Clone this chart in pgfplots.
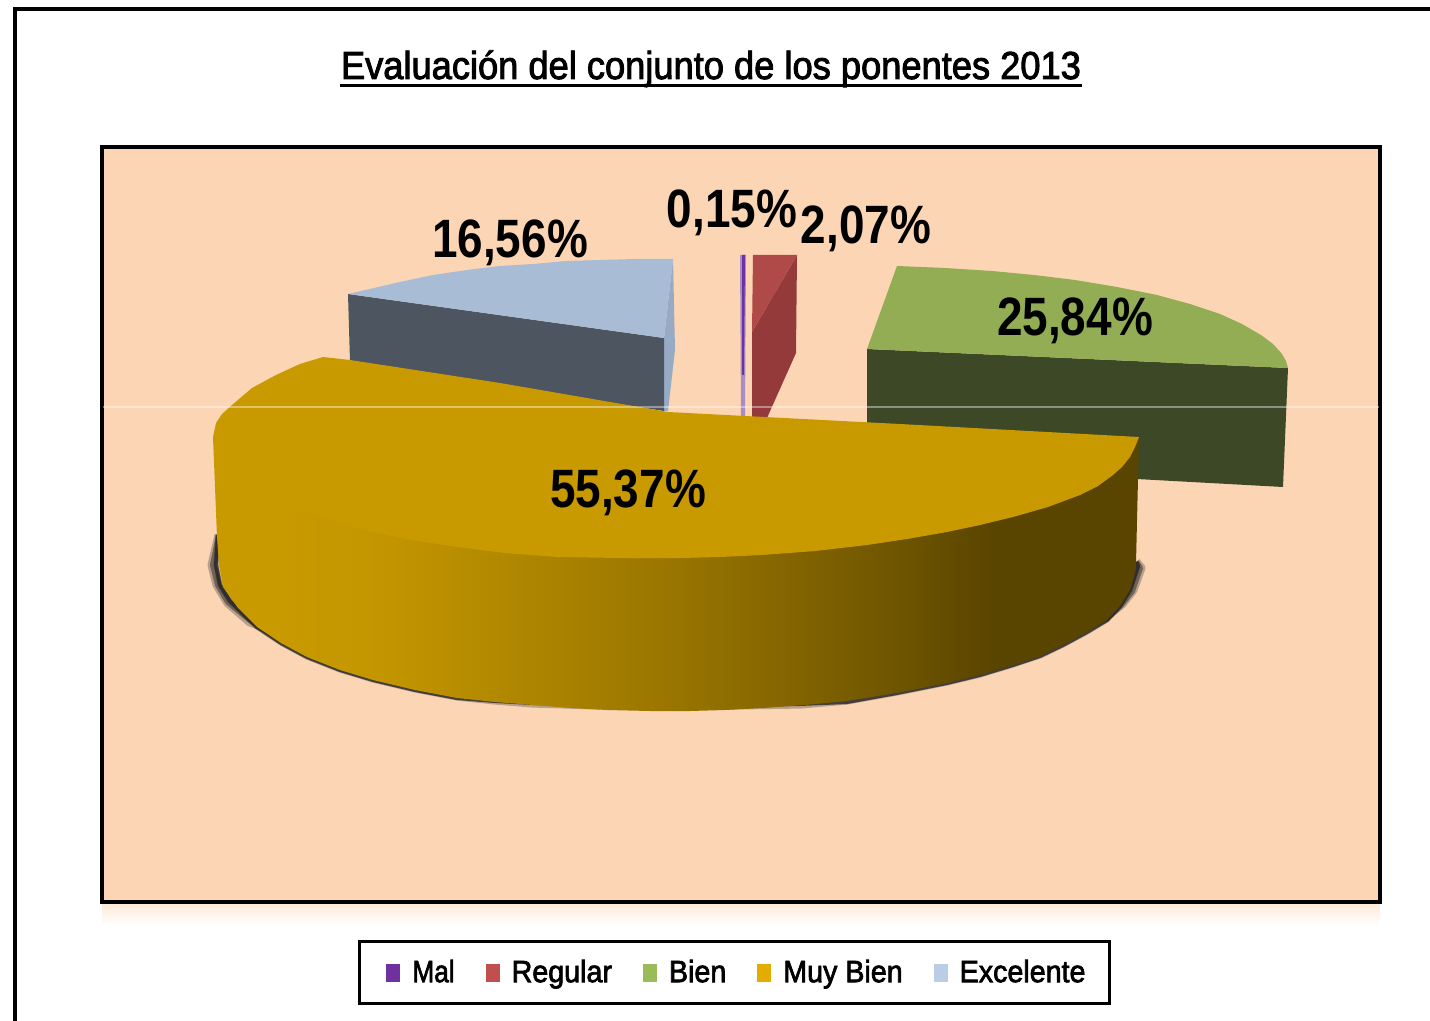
\documentclass[border=0pt]{standalone}
\usepackage{fontspec}
\setmainfont{Liberation Sans}
\newfontfamily\semib[FakeBold=2.4]{Liberation Sans}
\usepackage{pgfplots}
\pgfplotsset{compat=1.18}
\definecolor{bgp}{HTML}{FCD5B5}
\definecolor{blueT}{HTML}{A9BCD6}
\definecolor{blueS}{HTML}{4C5560}
\definecolor{blueR}{HTML}{97ABC5}
\definecolor{redT}{HTML}{B04A49}
\definecolor{redS}{HTML}{943A3A}
\definecolor{purT}{HTML}{6A32A4}
\definecolor{purL}{HTML}{A98CC4}
\definecolor{greenT}{HTML}{92AD54}
\definecolor{greenS}{HTML}{3D4826}
\definecolor{goldT}{HTML}{C99A00}
\definecolor{swM}{HTML}{7030A0}
\definecolor{swR}{HTML}{C0504D}
\definecolor{swB}{HTML}{9BBB59}
\definecolor{swY}{HTML}{E5AC00}
\definecolor{swE}{HTML}{B9CDE5}
\pgfdeclarehorizontalshading{goldside}{100bp}{
 color(0bp)=(goldT);
 color(28bp)=(goldT);
 color(34bp)=(goldT!97!black);
 color(50bp)=(goldT!76!black);
 color(62.5bp)=(goldT!54!black);
 color(67bp)=(goldT!45!black);
 color(75bp)=(goldT!45!black);
 color(100bp)=(goldT!45!black)}
\pgfplotsset{
 sl/.style={fill=#1,draw=none,forget plot,mark=none},
 swatch/.style={legend image code/.code={\fill[##1,draw=none] (0pt,-4.5pt) rectangle (7pt,4.5pt);}},
 swatchfirst/.style={legend image code/.code={\path[draw=none,fill=none] (0pt,0pt) -- (3.5pt,0pt);\fill[##1,draw=none] (3.5pt,-4.5pt) rectangle (10.5pt,4.5pt);}}
}
\newcommand{\val}[1]{\fontsize{27}{30}\selectfont\bfseries #1}
\newcommand{\leg}[2][.93]{\hspace{4pt}\semib\fontsize{15.4}{17}\selectfont\scalebox{#1}[1]{#2}}
\begin{document}
\begin{tikzpicture}
\path[use as bounding box] (0,0) rectangle (715pt,510.5pt);
\begin{axis}[
 at={(0,0)},anchor=south west,
 scale only axis,width=715pt,height=510.5pt,
 xmin=0,xmax=1430,ymin=0,ymax=1021,y dir=reverse,
 hide axis,
 legend columns=5,
 legend cell align=left,
 legend style={at={(axis cs:734.5,972.5)},anchor=center,draw=black,line width=1.2pt,
   fill=white,inner xsep=10pt,inner ysep=7.25pt,
   /tikz/every even column/.append style={column sep=13.5pt}},
]
% page frame
\addplot[sl=white] coordinates {(0,0)(1430,0)(1430,1021)(0,1021)} --cycle;
\addplot[draw=black,line width=1.75pt,forget plot] coordinates {(15,1030)(15,9)(1440,9)};
% shadow of plot area
\addplot[bottom color=white,top color=bgp!55!white,draw=none,forget plot] coordinates {(102,902)(1380,902)(1380,926)(102,926)} --cycle;
\addplot[fill=bgp,draw=black,line width=1.75pt,forget plot] coordinates {(102,147)(1380,147)(1380,902)(102,902)} --cycle;
% Excelente
\addplot[sl=blueR] coordinates {(673,259)(675,350)(668,411)(664,411)(664,338)} --cycle;
\addplot[sl=blueS] coordinates {(348,294)(664,338)(664,411)(350,362)} --cycle;
\addplot[sl=blueT] coordinates {(348,294)(374,288)(400,282)(433,275)(467,270)(500,266)(533,264)(566,261)(600,260)(636,259)(673,259)(664,338)} --cycle;
% Mal
\addplot[sl=purL] coordinates {(740,255)(746,255)(745,416)(741,416)} --cycle;
\addplot[sl=purT] coordinates {(742,255)(745,255)(744,375)(742,375)} --cycle;
% Regular
\addplot[sl=redS] coordinates {(797,255)(796,353)(767,418)(752,418)(752,332)} --cycle;
\addplot[sl=redT] coordinates {(753,255)(797,255)(752,332)} --cycle;
% Bien
\addplot[sl=greenS] coordinates {(867,349)(1288,368)(1283,487)(1100,477)(867,450)} --cycle;
\addplot[sl=greenT] coordinates {(897,266)(945,268)(992,271)(1034,275)(1075,280)(1117,287)(1157,295)(1190,304)(1220,314)(1242,324)(1261,335)(1273,344)(1282,354)(1286,361)(1288,368)(867,349)} --cycle;
% shadow under Muy Bien: thick at both ends, thin along the front
\addplot[draw=black!85,opacity=.3,line width=4.5pt,line join=round,forget plot] coordinates {(219,535)(212,565)(217,585)(228,603)(250,622)(270,630)};
\addplot[draw=black!85,opacity=.5,line width=3pt,line join=round,forget plot] coordinates {(219,535)(213,565)(218,585)(228,602)(250,620)(281,640)};
\addplot[draw=black!85,opacity=.3,line width=2.6pt,line join=round,forget plot] coordinates {(218,535)(216,565)(220,585)(230,601)(257,627)(281,643)(307,657)(340,670)(373,680)(415,690)(457,698)(495,702)(533,705)(600,707)};
\addplot[draw=black!85,opacity=.8,line width=2pt,line join=round,forget plot] coordinates {(218,535)(216,565)(220,585)(230,601)(257,627)(281,643)(307,657)(340,670)(373,680)(415,690)(457,698)(495,701)(533,703)(600,705)};
\addplot[draw=black!85,opacity=.3,line width=4.5pt,line join=round,forget plot] coordinates {(1087,625)(1107,616)(1122,604)(1133,590)(1141,568)(1136,562)};
\addplot[draw=black!85,opacity=.5,line width=3pt,line join=round,forget plot] coordinates {(1063,637)(1087,628)(1107,618)(1121,605)(1132,591)(1140,568)(1136,562)};
\addplot[draw=black!85,opacity=.3,line width=2.6pt,line join=round,forget plot] coordinates {(730,707)(800,706)(847,702)(897,693)(947,683)(980,675)(1013,665)(1040,656)(1063,645)(1087,632)(1107,620)(1120,606)(1130,590)(1138,566)(1136,562)};
\addplot[draw=black!85,opacity=.8,line width=2pt,line join=round,forget plot] coordinates {(730,705)(800,704)(847,702)(897,693)(947,683)(980,675)(1013,665)(1040,656)(1063,645)(1087,632)(1107,620)(1120,606)(1130,590)(1138,566)(1136,562)};
% Muy Bien, side
\addplot[shade,shading=goldside,shading angle=0,draw=none,forget plot] coordinates {
(213,437)(217,537)(219,565)(223,587)(238,608)(257,627)(281,643)(307,657)(340,670)(373,680)(415,690)(457,698)(495,702)(533,705)(570,708)(607,710)(650,711)(690,711)(725,710)(763,708)(805,705)(847,701)(897,693)(947,683)(980,675)(1013,665)(1040,656)(1063,645)(1087,632)(1107,620)(1120,606)(1130,590)(1134,577)(1136,563)(1139,437)(900,440)(600,440)} --cycle;
% Muy Bien, top
\addplot[sl=goldT] coordinates {
(323,357)(300,364)(276,375)(252,388)(232,405)(222,414)(216,423)(213,437)(215,453)(226,470)(245,488)(270,500)(312,515)(357,528)(405,539)(457,547)(505,553)(557,557)(620,558)(680,558)(720,557)(762,555)(815,551)(867,545)(907,539)(947,532)(980,525)(1013,517)(1048,507)(1080,495)(1098,486)(1113,475)(1122,467)(1130,457)(1135,447)(1139,437)(900,424)(668,412)(500,383)(350,360)} --cycle;
% light scan line
\addplot[draw=white,opacity=.4,line width=.6pt,forget plot] coordinates {(103,407)(1379,407)};
% title underline
\addplot[draw=black,line width=1.5pt,forget plot] coordinates {(340,86)(1082,86)};
% legend
\addlegendimage{swatchfirst,fill=swM}\addlegendentry{\leg[.85]{Mal}}
\addlegendimage{swatch,fill=swR}\addlegendentry{\leg{Regular}}
\addlegendimage{swatch,fill=swB}\addlegendentry{\leg{Bien}}
\addlegendimage{swatch,fill=swY}\addlegendentry{\leg{Muy Bien}}
\addlegendimage{swatch,fill=swE}\addlegendentry{\leg{Excelente}}
% texts
\node[anchor=base] at (axis cs:711,79) {\semib\fontsize{19.5}{22}\selectfont\scalebox{.93}[1]{Evaluación del conjunto de los ponentes 2013}};
\node[anchor=base,xscale=.85] at (axis cs:628,508) {\val{55,37\%}};
\node[anchor=base,xscale=.85] at (axis cs:510,258) {\val{16,56\%}};
\node[anchor=base,xscale=.85] at (axis cs:732,228) {\val{0,15\%}};
\node[anchor=base,xscale=.85] at (axis cs:866,244) {\val{2,07\%}};
\node[anchor=base,xscale=.85] at (axis cs:1075,336) {\val{25,84\%}};
\end{axis}
\end{tikzpicture}
\end{document}
